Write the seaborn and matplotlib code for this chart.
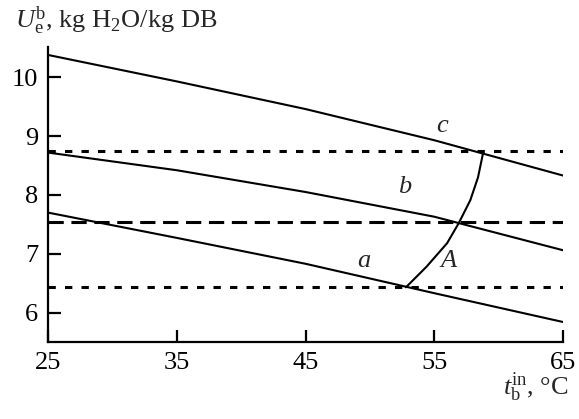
import matplotlib
matplotlib.use("Agg")
import matplotlib.pyplot as plt
import seaborn as sns
import pandas as pd

# ---- data ----
t_in = [25, 35, 45, 55, 65]
curve_a = [7.70, 7.27, 6.83, 6.33, 5.84]
curve_b = [8.72, 8.42, 8.05, 7.63, 7.06]
curve_c = [10.38, 9.93, 9.46, 8.93, 8.33]
t_A = [52.8, 54.4, 56.0, 56.9, 57.8, 58.4, 58.8]
U_A = [6.43, 6.78, 7.18, 7.52, 7.91, 8.30, 8.72]
levels = [6.43, 7.54, 8.74]
level_styles = ["dotted", "dashed", "dotted"]
x_ticks = [25, 35, 45, 55, 65]
y_ticks = [6, 7, 8, 9, 10]
curve_labels = ["c", "b", "a", "A"]
label_t = [55.6, 52.7, 49.5, 56.1]
label_U = [9.07, 8.03, 6.78, 6.78]

sns.set_theme(style="ticks")
plt.rcParams["font.family"] = ["Liberation Serif", "DejaVu Serif"]
plt.rcParams["mathtext.fontset"] = "custom"
plt.rcParams["mathtext.rm"] = "Liberation Serif"
plt.rcParams["mathtext.it"] = "Liberation Serif:italic"

FS = 19
fig = plt.figure(figsize=(5.79, 4.19), dpi=100)
ax = fig.add_axes([48/579, 1-342/419, (563-48)/579, (342-46.7)/419])

df = pd.DataFrame({"t": t_in * 3,
                   "U": curve_a + curve_b + curve_c,
                   "curve": ["a"] * 5 + ["b"] * 5 + ["c"] * 5})
sns.lineplot(data=df, x="t", y="U", units="curve", estimator=None,
             color="black", lw=1.5, ax=ax, sort=False)
dfA = pd.DataFrame({"t": t_A, "U": U_A})
sns.lineplot(data=dfA, x="t", y="U", color="black", lw=1.5, ax=ax, sort=False)

dash_map = {"dotted": (0, (2.4, 3.0)), "dashed": (0, (5.0, 2.5))}
for lv, st in zip(levels, level_styles):
    ax.axhline(lv, color="black", lw=2.2, linestyle=dash_map[st])

ax.set_xlim(25, 65)
ax.set_ylim(5.5, 10.52)
ax.set_xticks(x_ticks)
ax.set_yticks(y_ticks)
ax.set_xlabel("")
ax.set_ylabel("")
for s in ["top", "right"]:
    ax.spines[s].set_visible(False)
for s in ["left", "bottom"]:
    ax.spines[s].set_linewidth(1.6)
    ax.spines[s].set_color("black")
ax.tick_params(direction="in", length=9, width=1.6, labelsize=FS,
               colors="black", pad=7)

for txt, x, y in zip(curve_labels, label_t, label_U):
    ax.text(x, y, txt, fontsize=FS, style="italic", ha="center", va="baseline")

fig.text(15/579, 1-28/419, r"$U_\mathrm{e}^\mathrm{b}$, kg H$_2$O/kg DB",
         fontsize=FS, ha="left", va="baseline")
fig.text(569/579, 1-395/419, r"$t_\mathrm{b}^\mathrm{in}$, °C",
         fontsize=FS, ha="right", va="baseline")

fig.savefig("out.png", dpi=100)
